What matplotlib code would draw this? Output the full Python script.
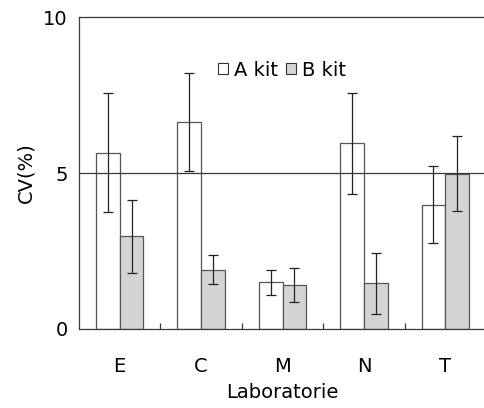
import numpy as np
import matplotlib
matplotlib.use('Agg')
import matplotlib.pyplot as plt
from matplotlib.patches import Patch

labs = ['E', 'C', 'M', 'N', 'T']
a_kit = [5.65, 6.62, 1.50, 5.95, 3.98]
a_err = [1.9, 1.57, 0.40, 1.61, 1.23]
b_kit = [2.97, 1.90, 1.41, 1.46, 4.98]
b_err = [1.18, 0.47, 0.55, 0.98, 1.20]

plt.rcParams['font.family'] = 'DejaVu Sans'
fig = plt.figure(figsize=(4.84, 4.08), dpi=100)
ax = fig.add_axes([79/484, 79/408, 407/484, 312/408])

x = np.arange(len(labs))
w = 0.29
line_c = '#3a3a3a'
ax.bar(x - w/2, a_kit, w, color='white', edgecolor='#555555', linewidth=0.9, zorder=2)
ax.bar(x + w/2, b_kit, w, color='#d4d4d4', edgecolor='#555555', linewidth=0.9, zorder=2)
ax.errorbar(x - w/2, a_kit, yerr=a_err, fmt='none', ecolor='#222222', elinewidth=0.9, capsize=3.3, capthick=0.9, zorder=3)
ax.errorbar(x + w/2, b_kit, yerr=b_err, fmt='none', ecolor='#222222', elinewidth=0.9, capsize=3.3, capthick=0.9, zorder=3)
ax.axhline(5, color=line_c, linewidth=0.9, zorder=4)

ax.set_xlim(-0.5, len(labs) - 0.5)
ax.set_ylim(0, 10)
ax.set_yticks([0, 5, 10])
ax.set_xticks(x)
ax.set_xticklabels(labs)
ax.set_xticks(np.arange(len(labs) - 1) + 0.5, minor=True)
ax.tick_params(axis='x', which='major', length=0, pad=20, labelsize=14)
ax.tick_params(axis='x', which='minor', direction='in', length=4.5, width=0.9, color=line_c)
ax.tick_params(axis='y', length=0, pad=8, labelsize=14)
ax.spines['right'].set_visible(False)
for s in ['left', 'top', 'bottom']:
    ax.spines[s].set_color(line_c)
    ax.spines[s].set_linewidth(0.9)

ax.set_ylabel('CV(%)', fontsize=14, labelpad=6)
ax.set_xlabel('Laboratorie', fontsize=14, labelpad=5.5)

handles = [Patch(facecolor='white', edgecolor='#333333', linewidth=0.8, label='A kit'),
           Patch(facecolor='#d4d4d4', edgecolor='#333333', linewidth=0.8, label='B kit')]
ax.legend(handles=handles, loc='center left', bbox_to_anchor=(0.342, 0.83), ncol=2,
          frameon=False, fontsize=14, handlelength=0.5, handleheight=0.5,
          handletextpad=0.3, columnspacing=0.45, borderpad=0, borderaxespad=0)

fig.savefig('out.png', dpi=100)
